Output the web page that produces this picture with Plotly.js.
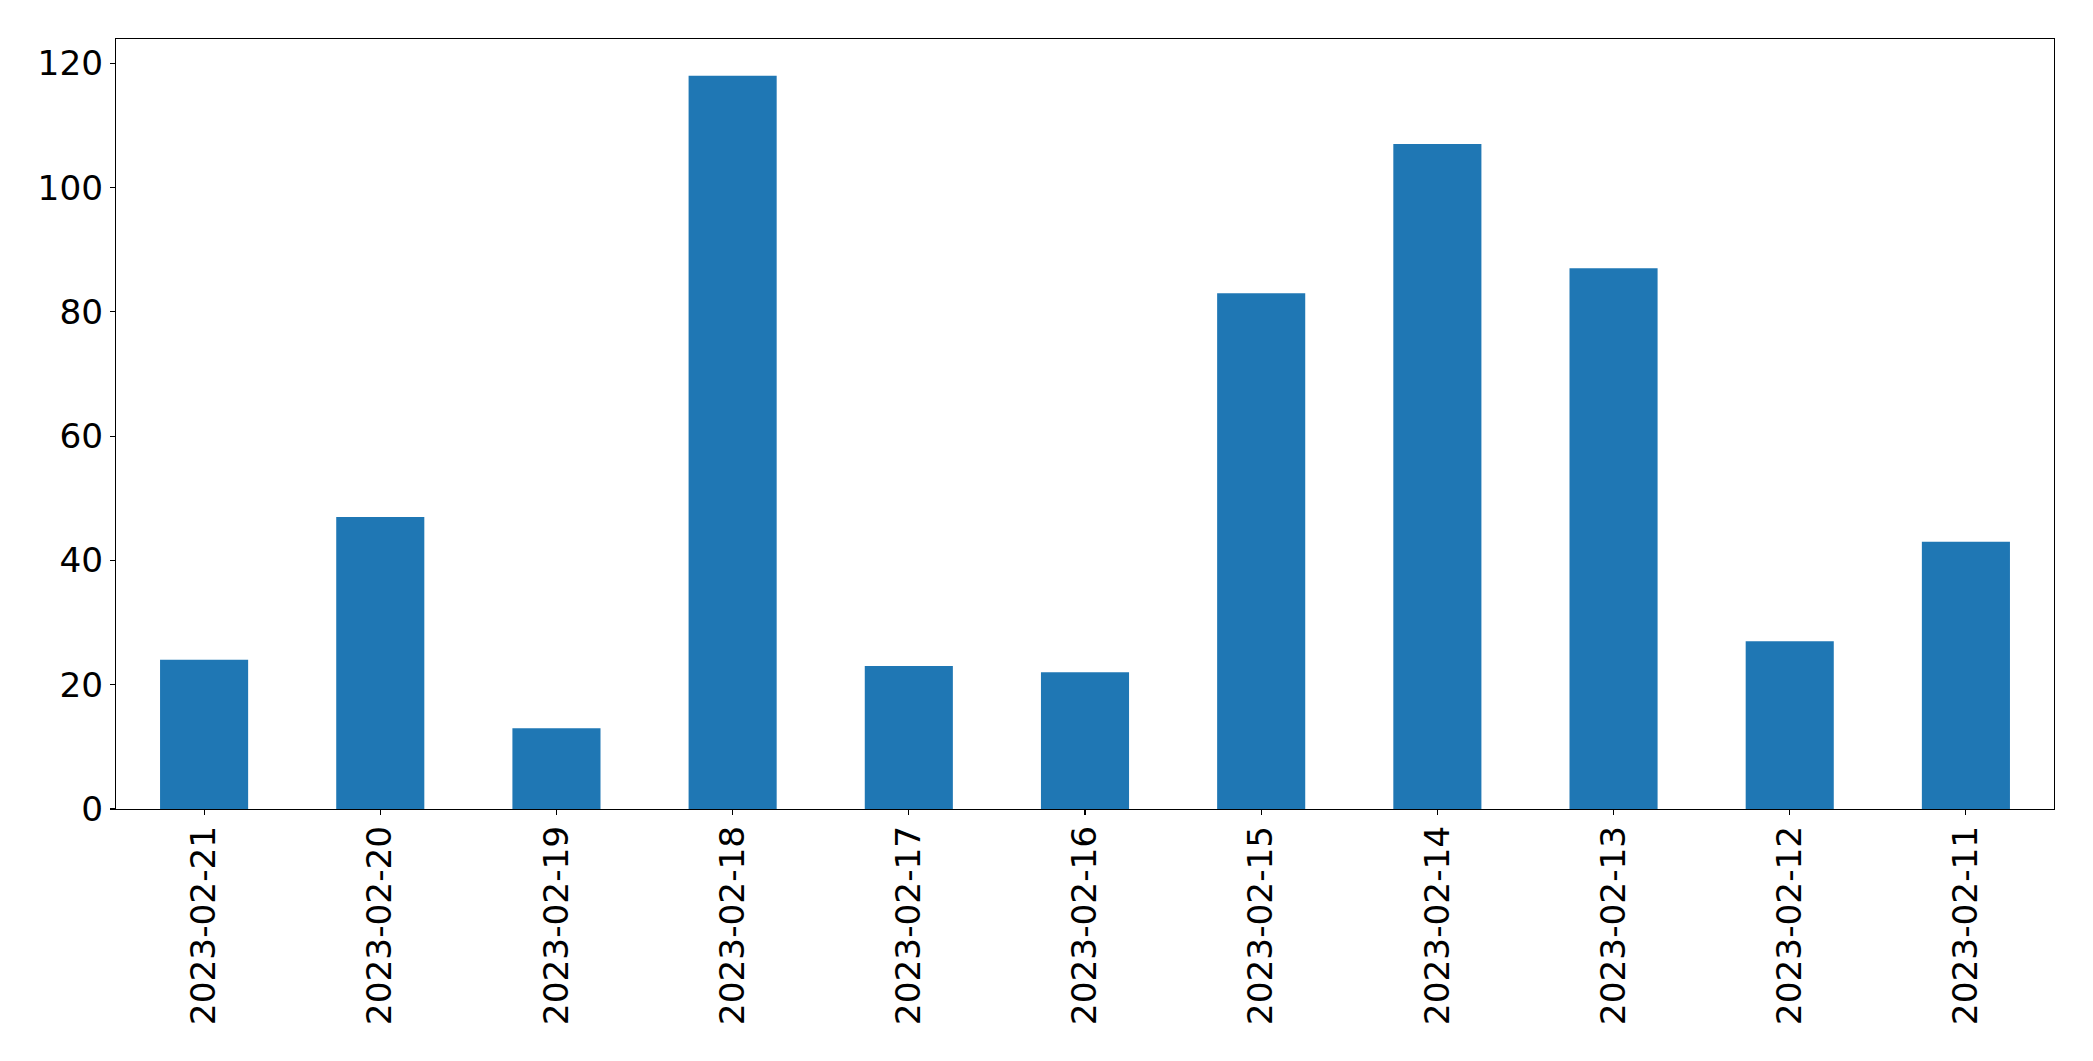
<!DOCTYPE html>
<html>
<head>
<meta charset="utf-8">
<script src="https://cdn.plot.ly/plotly-3.0.1.min.js"></script>
<style>html,body{margin:0;padding:0;background:#fff;}#chart{width:2093px;height:1061px;}</style>
</head>
<body>
<div id="chart"></div>
<script>
const dates = ["2023-02-21","2023-02-20","2023-02-19","2023-02-18","2023-02-17","2023-02-16","2023-02-15","2023-02-14","2023-02-13","2023-02-12","2023-02-11"];
const counts = [24, 47, 13, 118, 23, 22, 83, 107, 87, 27, 43];
const yTicks = [0, 20, 40, 60, 80, 100, 120];

const font = {family: "DejaVu Sans", size: 34.3, color: "#000"};

Plotly.newPlot("chart", [{
  type: "bar",
  x: dates,
  y: counts,
  marker: {color: "#1f77b4", line: {width: 0}},
  hoverinfo: "x+y"
}], {
  width: 2093,
  height: 1061,
  margin: {l: 116, r: 39, t: 39, b: 252, pad: 0},
  paper_bgcolor: "#fff",
  plot_bgcolor: "#fff",
  bargap: 0.5,
  showlegend: false,
  font: font,
  xaxis: {
    type: "category",
    range: [-0.5, 10.5],
    tickangle: -90,
    ticks: "outside",
    ticklen: 5,
    tickwidth: 1.1,
    tickcolor: "#000",
    ticklabelstandoff: -3,
    showline: true,
    linecolor: "#000",
    linewidth: 1.1,
    mirror: true,
    showgrid: false,
    zeroline: false,
    tickfont: font
  },
  yaxis: {
    range: [0, 123.9],
    tickvals: yTicks,
    ticktext: yTicks.map(String),
    ticks: "outside",
    ticklen: 5,
    tickwidth: 1.1,
    tickcolor: "#000",
    showline: true,
    linecolor: "#000",
    linewidth: 1.1,
    mirror: true,
    showgrid: false,
    zeroline: false,
    tickfont: font
  }
}, {displayModeBar: false, staticPlot: true});
</script>
</body>
</html>
